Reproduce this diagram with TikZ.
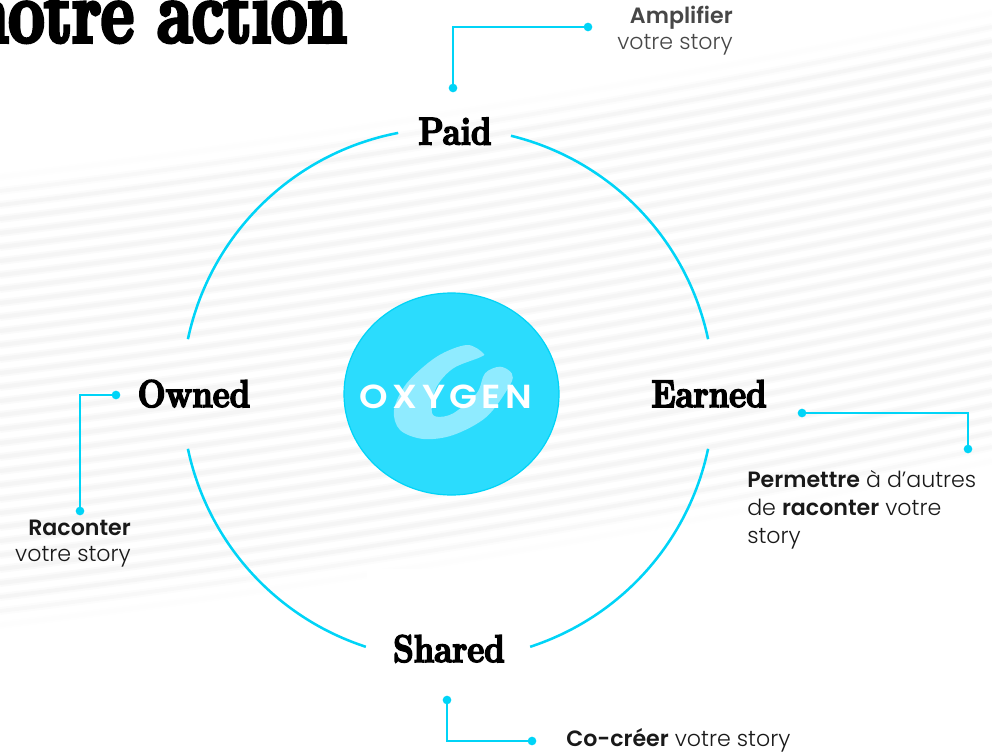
\documentclass[tikz,border=0pt]{standalone}
\usepackage{fontspec}
\setmainfont{Poppins}[UprightFont=* Light,BoldFont=* SemiBold]
\newfontfamily\abril{Latin Modern Roman}[BoldFeatures={FakeBold=4,FakeStretch=0.85}]
\newfontfamily\abrilT{Latin Modern Roman}[BoldFeatures={FakeBold=4.5,FakeStretch=0.72}]
\newfontfamily\oxy{Poppins}[UprightFont=* SemiBold,LetterSpace=13,FakeStretch=1.09]
\definecolor{cy}{HTML}{00D4F7}
\definecolor{cyfill}{HTML}{2BDCFD}
\definecolor{swoosh}{HTML}{8FEBFF}
\definecolor{stripeA}{HTML}{FAFAFA}
\definecolor{stripeB}{HTML}{F5F5F5}
\tikzset{
  ringarc/.style={draw=cy,line width=1.9pt,line cap=butt},
  conn/.style={draw=cy,line width=1.5pt},
  dotn/.style={circle,fill=cy,draw=none,minimum size=6.5pt,inner sep=0pt},
  head/.style={font=\abril\bfseries\fontsize{29}{29}\selectfont,inner sep=0pt,text=black,anchor=base},
  lab/.style={font=\fontsize{16.6}{21}\selectfont,inner sep=0pt,text=black!90},
}
\begin{document}
\begin{tikzpicture}[x=0.75pt,y=-0.75pt]
\useasboundingbox (0,0) rectangle (992,752);
\clip (0,0) rectangle (992,752);
% stripes
\foreach \i in {0,...,32}{
  \pgfmathsetmacro{\yz}{177+14*\i}
  \pgfmathsetmacro{\op}{min(1,min(\i+0.5,32.5-\i)/3)}
  \draw[stripeA,line width=6pt,opacity=\op] plot[domain=0:992,samples=30] (\x,{\yz-0.12*\x-0.00005*\x*\x});
  \draw[stripeB,line width=3pt,opacity=\op] plot[domain=0:992,samples=30] (\x,{\yz-0.12*\x-0.00005*\x*\x});
}
\fill[white] (367,569) rectangle (530,670);
% ring
\draw[ringarc] plot[domain=76.3:11.9,samples=60] ({448+265.8*cos(\x)},{394-265.8*sin(\x)});
\draw[ringarc] plot[domain=-11.9:-72,samples=60] ({448+265.8*cos(\x)},{394-265.8*sin(\x)});
\draw[ringarc] plot[domain=-108:-168.1,samples=60] ({448+265.8*cos(\x)},{394-265.8*sin(\x)});
\draw[ringarc] plot[domain=168.1:100.8,samples=60] ({448+265.8*cos(\x)},{394-265.8*sin(\x)});
% centre disc
\path[fill=cyfill,draw=cy,line width=0.9pt] (451.5,394) ellipse [x radius=107.5,y radius=101];
\fill[swoosh] plot[smooth cycle,tension=0.55] coordinates {(483.3,353.3)(466.7,345)(436.7,356.7)(406.7,383.3)(394,410)(400,430)(423.3,439)(453.3,435)(486.7,416.7)(510,385)(511.7,373.3)(500,366.7)(485,373.3)(476.7,393.3)(453.3,413.3)(436.7,416.7)(431.7,410)(436.7,386.7)(453.3,368.3)(480,357.3)};
\node[font=\oxy\fontsize{25}{25}\selectfont,text=white,inner sep=0pt,anchor=base] (logo) at (446,408) {OXYGEN};
% title
\node[font=\abrilT\bfseries\fontsize{66}{66}\selectfont,text=black,inner sep=0pt,anchor=base east] (title) at (347,42) {notre action};
% heads
\node[head] (paid) at (455,144.5) {Paid};
\node[head] (owned) at (194,407) {Owned};
\node[head] (earned) at (709,407) {Earned};
\node[head] (shared) at (449,662) {Shared};
% connectors
\node[dotn] (pa) at (453,88) {};
\node[dotn] (pb) at (588,27) {};
\draw[conn] (pa.center) |- (pb.center);
\node[dotn] (ea) at (802,413) {};
\node[dotn] (eb) at (968,449) {};
\draw[conn] (ea.center) -| (eb.center);
\node[dotn] (oa) at (116,395) {};
\node[dotn] (ob) at (80,511) {};
\draw[conn] (oa.center) -| (ob.center);
\node[dotn] (sa) at (447,700) {};
\node[dotn] (sb) at (532,741) {};
\draw[conn] (sa.center) |- (sb.center);
% labels
\node[lab,text=black!72,anchor=base east] (l1a) at (733,24) {\textbf{Amplifier}};
\node[lab,text=black!72,anchor=base east] (l1b) at (733,50) {votre story};
\node[lab,anchor=base east] (l2a) at (131,535) {\textbf{Raconter}};
\node[lab,anchor=base east] (l2b) at (131,561) {votre story};
\node[lab,anchor=base west] (l3a) at (747,487) {\textbf{Permettre} à d'autres};
\node[lab,anchor=base west] (l3b) at (747,515) {de \textbf{raconter} votre};
\node[lab,anchor=base west] (l3c) at (747,543) {story};
\node[lab,anchor=base west] (l4) at (566,746) {\textbf{Co-créer} votre story};
\end{tikzpicture}
\end{document}
